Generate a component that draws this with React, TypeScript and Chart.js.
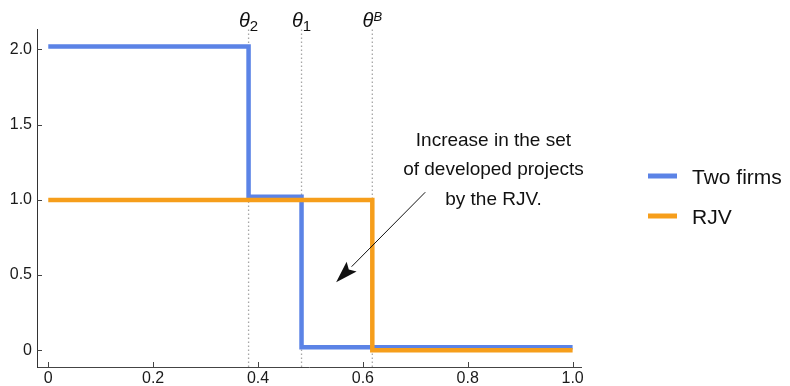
import React, { useEffect, useRef } from "react";
import { Chart, registerables } from "chart.js";

Chart.register(...registerables);

// ---- data ----
const seriesNames = ["Two firms", "RJV"];
const twoFirmsX = [0, 0.382, 0.483, 1];
const twoFirmsY = [2.02, 1.02, 0.02, 0.02];
const rjvX = [0, 0.618, 1];
const rjvY = [1, 0, 0];

const thetaValues = [0.382, 0.483, 0.618];
const thetaScripts = ["2", "1", "B"];
const thetaScriptKinds = ["sub", "sub", "sup"];

const xTickValues = [0, 0.2, 0.4, 0.6, 0.8, 1];
const xTickLabels = ["0", "0.2", "0.4", "0.6", "0.8", "1.0"];
const yTickValues = [0, 0.5, 1, 1.5, 2];
const yTickLabels = ["0", "0.5", "1.0", "1.5", "2.0"];

const annotationLines = ["Increase in the set", "of developed projects", "by the RJV."];
const annotationCenterX = 0.849;
const annotationLineY = [1.39, 1.198, 0.998];
const arrowTail = [0.719, 1.051];
const arrowTip = [0.549, 0.452];

const X_MIN = -0.0215;
const X_MAX = 1.016;
const Y_MIN = -0.111;
const Y_MAX = 2.136;

const BLUE = "#5b83e6";
const ORANGE = "#f69e1b";
const FONT = '"Liberation Sans", Arial, sans-serif';

const overlayPlugin = {
  id: "overlay",
  afterDraw(chart: any) {
    const ctx = chart.ctx as CanvasRenderingContext2D;
    const xs = chart.scales.x;
    const ys = chart.scales.y;
    const area = chart.chartArea;
    ctx.save();

    // inward tick marks
    ctx.strokeStyle = "#444";
    ctx.lineWidth = 1;
    ctx.beginPath();
    xTickValues.forEach((v) => {
      const px = Math.round(xs.getPixelForValue(v)) + 0.5;
      ctx.moveTo(px, area.bottom);
      ctx.lineTo(px, area.bottom - 5);
    });
    yTickValues.forEach((v) => {
      const py = Math.round(ys.getPixelForValue(v)) + 0.5;
      ctx.moveTo(area.left, py);
      ctx.lineTo(area.left + 5, py);
    });
    ctx.stroke();

    // theta labels
    ctx.fillStyle = "#111";
    thetaValues.forEach((v, i) => {
      const cx = xs.getPixelForValue(v);
      const mainFont = `italic 20px ${FONT}`;
      ctx.font = mainFont;
      const wT = ctx.measureText("θ").width;
      const kind = thetaScriptKinds[i];
      const sFont = kind === "sub" ? `15px ${FONT}` : `italic 13px ${FONT}`;
      ctx.font = sFont;
      const wS = ctx.measureText(thetaScripts[i]).width;
      const total = wT + wS;
      const left = cx - total / 2;
      ctx.textBaseline = "alphabetic";
      ctx.textAlign = "left";
      ctx.font = mainFont;
      ctx.fillText("θ", left, 27);
      ctx.font = sFont;
      if (kind === "sub") ctx.fillText(thetaScripts[i], left + wT, 31);
      else ctx.fillText(thetaScripts[i], left + wT, 21);
    });

    // annotation text
    ctx.font = `19px ${FONT}`;
    ctx.textAlign = "center";
    ctx.textBaseline = "middle";
    ctx.fillStyle = "#111";
    annotationLines.forEach((t, i) => {
      ctx.fillText(t, xs.getPixelForValue(annotationCenterX), ys.getPixelForValue(annotationLineY[i]));
    });

    // arrow
    const tx = xs.getPixelForValue(arrowTail[0]);
    const ty = ys.getPixelForValue(arrowTail[1]);
    const hx = xs.getPixelForValue(arrowTip[0]);
    const hy = ys.getPixelForValue(arrowTip[1]);
    const ang = Math.atan2(hy - ty, hx - tx);
    const headLen = 22;
    const headW = 7;
    const bx = hx - headLen * Math.cos(ang);
    const by = hy - headLen * Math.sin(ang);
    ctx.strokeStyle = "#111";
    ctx.lineWidth = 1;
    ctx.beginPath();
    ctx.moveTo(tx, ty);
    ctx.lineTo(bx, by);
    ctx.stroke();
    const nx = -Math.sin(ang);
    const ny = Math.cos(ang);
    const notch = 4;
    ctx.fillStyle = "#111";
    ctx.beginPath();
    ctx.moveTo(hx, hy);
    ctx.lineTo(bx + nx * headW, by + ny * headW);
    ctx.lineTo(bx + notch * Math.cos(ang), by + notch * Math.sin(ang));
    ctx.lineTo(bx - nx * headW, by - ny * headW);
    ctx.closePath();
    ctx.fill();

    // legend
    const colors = [BLUE, ORANGE];
    const lx = area.right + 67;
    seriesNames.forEach((name, i) => {
      const cy = 176 + i * 40;
      ctx.strokeStyle = colors[i];
      ctx.lineWidth = 5;
      ctx.beginPath();
      ctx.moveTo(lx, cy);
      ctx.lineTo(lx + 29, cy);
      ctx.stroke();
      ctx.fillStyle = "#111";
      ctx.font = `21px ${FONT}`;
      ctx.textAlign = "left";
      ctx.textBaseline = "alphabetic";
      ctx.fillText(name, lx + 44, cy + 7.5);
    });

    ctx.restore();
  },
};

export default function App() {
  const ref = useRef<HTMLCanvasElement | null>(null);

  useEffect(() => {
    if (!ref.current) return;
    const thetaSets = thetaValues.map((v) => ({
      label: "theta",
      data: [
        { x: v, y: Y_MIN },
        { x: v, y: Y_MAX },
      ],
      borderColor: "#a6a6a6",
      borderWidth: 1.3,
      borderDash: [1.5, 2.5],
      pointRadius: 0,
      order: 2,
    }));
    const chart = new Chart(ref.current, {
      type: "line",
      data: {
        datasets: [
          {
            label: seriesNames[1],
            data: rjvX.map((x, i) => ({ x, y: rjvY[i] })),
            borderColor: ORANGE,
            borderWidth: 4.5,
            stepped: true,
            pointRadius: 0,
            borderCapStyle: "butt",
            borderJoinStyle: "miter",
            order: 0,
          },
          {
            label: seriesNames[0],
            data: twoFirmsX.map((x, i) => ({ x, y: twoFirmsY[i] })),
            borderColor: BLUE,
            borderWidth: 4.5,
            stepped: true,
            pointRadius: 0,
            borderCapStyle: "butt",
            borderJoinStyle: "miter",
            order: 1,
          },
          ...thetaSets,
        ] as any,
      },
      options: {
        animation: false,
        responsive: false,
        events: [],
        layout: { padding: { top: 29, right: 209, left: 0, bottom: 0 } },
        plugins: {
          legend: { display: false },
          tooltip: { enabled: false },
        },
        scales: {
          x: {
            type: "linear",
            min: X_MIN,
            max: X_MAX,
            grid: { display: false, drawTicks: false },
            border: { display: true, color: "#444", width: 1 },
            afterBuildTicks: (s: any) => {
              s.ticks = xTickValues.map((v) => ({ value: v }));
            },
            afterFit: (s: any) => {
              s.height = 19;
            },
            ticks: {
              padding: 2,
              color: "#1a1a1a",
              font: { family: FONT, size: 16 },
              maxRotation: 0,
              autoSkip: false,
              callback: (v: any) => {
                const i = xTickValues.findIndex((t) => Math.abs(t - v) < 1e-9);
                return i >= 0 ? xTickLabels[i] : "";
              },
            },
          },
          y: {
            type: "linear",
            min: Y_MIN,
            max: Y_MAX,
            grid: { display: false, drawTicks: false },
            border: { display: true, color: "#333", width: 1 },
            afterBuildTicks: (s: any) => {
              s.ticks = yTickValues.map((v) => ({ value: v }));
            },
            afterFit: (s: any) => {
              s.width = 37;
            },
            ticks: {
              padding: 5,
              color: "#1a1a1a",
              font: { family: FONT, size: 16 },
              autoSkip: false,
              callback: (v: any) => {
                const i = yTickValues.findIndex((t) => Math.abs(t - v) < 1e-9);
                return i >= 0 ? yTickLabels[i] : "";
              },
            },
          },
        },
      } as any,
      plugins: [overlayPlugin],
    });
    return () => chart.destroy();
  }, []);

  return (
    <div style={{ position: "fixed", left: 0, top: 0, width: 790, height: 386, background: "#fff" }}>
      <canvas ref={ref} width={790} height={386} style={{ width: 790, height: 386, display: "block" }} />
    </div>
  );
}
